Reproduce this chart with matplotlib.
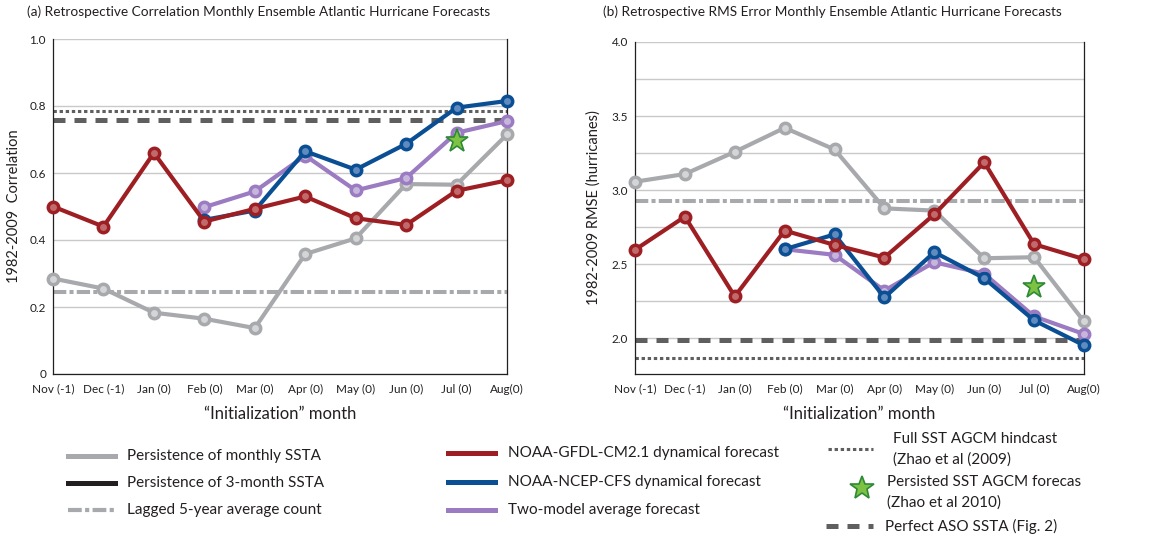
import numpy as np
import matplotlib
matplotlib.use("Agg")
import matplotlib.pyplot as plt
from matplotlib.lines import Line2D

plt.rcParams['font.family'] = ['Lato', 'DejaVu Sans']

# ---- data ----
months = ["Nov (-1)", "Dec (-1)", "Jan (0)", "Feb (0)", "Mar (0)",
          "Apr (0)", "May (0)", "Jun (0)", "Jul (0)", "Aug(0)"]

# (a) correlation
corr_persist = [0.285, 0.255, 0.183, 0.165, 0.137, 0.358, 0.405, 0.567, 0.565, 0.715]
corr_gfdl = [0.50, 0.44, 0.66, 0.455, 0.493, 0.53, 0.465, 0.445, 0.547, 0.578]
corr_ncep = [np.nan, np.nan, np.nan, 0.46, 0.488, 0.665, 0.61, 0.687, 0.795, 0.815]
corr_twomodel = [np.nan, np.nan, np.nan, 0.498, 0.545, 0.652, 0.548, 0.585, 0.72, 0.755]
corr_star = 0.695
corr_fullsst = 0.785
corr_perfect = 0.757
corr_lagged = 0.244

# (b) rmse
rmse_persist = [3.056, 3.108, 3.258, 3.42, 3.274, 2.876, 2.861, 2.539, 2.546, 2.112]
rmse_gfdl = [2.596, 2.82, 2.281, 2.726, 2.629, 2.544, 2.836, 3.187, 2.634, 2.533]
rmse_ncep = [np.nan, np.nan, np.nan, 2.60, 2.70, 2.274, 2.58, 2.404, 2.119, 1.951]
rmse_twomodel = [np.nan, np.nan, np.nan, 2.60, 2.562, 2.321, 2.512, 2.434, 2.146, 2.027]
rmse_star = 2.348
rmse_fullsst = 1.865
rmse_perfect = 1.989
rmse_lagged = 2.928

star_month = 8

GRAY = '#A7A9AC'
RED = '#9E1F23'
BLUE = '#0A4F94'
PURPLE = '#9B7BC1'
BLACK = '#231F20'
DARK = '#5F5F5F'
GRID = '#C9C9C9'

W, H = 1158, 539
fig = plt.figure(figsize=(W / 100, H / 100), dpi=100)


def px_box(x0, y0, x1, y1):
    # pixel box (top-left origin) -> figure fraction rect
    return [x0 / W, 1 - y1 / H, (x1 - x0) / W, (y1 - y0) / H]


ax1 = fig.add_axes(px_box(53, 39, 507, 374))
ax2 = fig.add_axes(px_box(635, 42, 1084, 374))

x = np.arange(len(months))


def draw_series(ax, y, color, light, z):
    ax.plot(x, y, color=color, lw=3, marker='o', ms=7.5, mfc=light, mec=color,
            mew=2.5, clip_on=False, zorder=z)


def ref_lines(ax, full, perfect, lagged):
    ax.axhline(full, color=DARK, lw=2.2, ls=(0, (1.1, 0.9)), zorder=2)
    ax.axhline(perfect, color=DARK, lw=3.6, ls=(0, (2.4, 1.8)), zorder=2)
    ax.axhline(lagged, color=GRAY, lw=2.9, ls=(0, (3.3, 0.8, 1.0, 0.8)), zorder=2)


def style(ax):
    ax.set_xlim(0, 9)
    ax.set_xticks(x)
    ax.set_xticklabels(months, fontsize=8.5, color=BLACK)
    ax.tick_params(axis='both', length=0, labelsize=8.5, labelcolor=BLACK)
    ax.tick_params(axis='x', pad=7)
    ax.tick_params(axis='y', pad=5)
    ax.grid(axis='y', which='both', color=GRID, lw=1, zorder=0)
    ax.spines['top'].set_visible(False)
    for s in ['left', 'right', 'bottom']:
        ax.spines[s].set_color(BLACK)
        ax.spines[s].set_linewidth(0.9)
    ax.set_xlabel('\u201cInitialization\u201d month', fontsize=12, color=BLACK, labelpad=8)


# panel (a)
ref_lines(ax1, corr_fullsst, corr_perfect, corr_lagged)
draw_series(ax1, corr_persist, GRAY, '#D4D5D7', 3)
draw_series(ax1, corr_gfdl, RED, '#C06A6C', 5)
draw_series(ax1, corr_twomodel, PURPLE, '#C7B6DC', 4)
draw_series(ax1, corr_ncep, BLUE, '#5F8BBE', 4)
ax1.plot(x[star_month], corr_star, marker='*', ms=17, mfc='#7DC242', mec='#2D8A36',
         mew=1.2, ls='none', zorder=6)
ax1.set_ylim(0, 1.0)
ax1.set_yticks([0, 0.2, 0.4, 0.6, 0.8, 1.0])
ax1.set_yticklabels(['0', '0.2', '0.4', '0.6', '0.8', '1.0'])
style(ax1)
ax1.set_ylabel('1982-2009  Correlation', fontsize=10.5, color=BLACK, labelpad=6)

# panel (b)
ref_lines(ax2, rmse_fullsst, rmse_perfect, rmse_lagged)
draw_series(ax2, rmse_persist, GRAY, '#D4D5D7', 3)
draw_series(ax2, rmse_gfdl, RED, '#C06A6C', 5)
draw_series(ax2, rmse_twomodel, PURPLE, '#C7B6DC', 4)
draw_series(ax2, rmse_ncep, BLUE, '#5F8BBE', 4)
ax2.plot(x[star_month], rmse_star, marker='*', ms=17, mfc='#7DC242', mec='#2D8A36',
         mew=1.2, ls='none', zorder=6)
ax2.set_ylim(1.757, 4.0)
ax2.set_yticks([2.0, 2.5, 3.0, 3.5, 4.0])
ax2.set_yticks([2.25, 2.75, 3.25, 3.75], minor=True)
style(ax2)
ax2.tick_params(axis='y', which='minor', length=0)
ax2.set_ylabel('1982-2009 RMSE (hurricanes)', fontsize=10.5, color=BLACK, labelpad=8)

fig.text(27 / W, 1 - 12 / H, '(a) Retrospective Correlation Monthly Ensemble Atlantic Hurricane Forecasts',
         fontsize=9.8, color=BLACK, va='center', ha='left')
fig.text(603 / W, 1 - 12 / H, '(b) Retrospective RMS Error Monthly Ensemble Atlantic Hurricane Forecasts',
         fontsize=9.8, color=BLACK, va='center', ha='left')


# ---- legend, laid out by hand ----
def handle(x0, x1, y, **kw):
    fig.add_artist(Line2D([x0 / W, x1 / W], [1 - y / H, 1 - y / H],
                          transform=fig.transFigure, **kw))


def label(xp, yp, s):
    fig.text(xp / W, 1 - yp / H, s, fontsize=11, color=BLACK, va='center', ha='left')


leg_col1 = [("Persistence of monthly SSTA", dict(color=GRAY, lw=3.6)),
            ("Persistence of 3-month SSTA", dict(color=BLACK, lw=3.6)),
            ("Lagged 5-year average count", dict(color=GRAY, lw=3.0, ls=(0, (3.3, 0.8, 1.0, 0.8))))]
for (txt, kw), yy in zip(leg_col1, [456, 483, 510]):
    handle(68, 115, yy, **kw)
    label(127, yy, txt)

leg_col2 = [("NOAA-GFDL-CM2.1 dynamical forecast", RED),
            ("NOAA-NCEP-CFS dynamical forecast", BLUE),
            ("Two-model average forecast", PURPLE)]
for (txt, c), yy in zip(leg_col2, [453, 482, 510]):
    handle(448, 495, yy, color=c, lw=3.6)
    label(508, yy, txt)

handle(828, 873, 449, color=DARK, lw=2.2, ls=(0, (1.1, 0.9)))
label(893, 439, "Full SST AGCM hindcast")
label(893, 460, "(Zhao et al (2009)")
fig.add_artist(Line2D([862 / W], [1 - 488 / H], transform=fig.transFigure, marker='*',
                      ms=18, mfc='#7DC242', mec='#2D8A36', mew=1.2, ls='none'))
label(887, 482, "Persisted SST AGCM forecas")
label(887, 503, "(Zhao et al 2010)")
handle(826, 873, 526, color=DARK, lw=3.6, ls=(0, (2.4, 1.8)))
label(885, 526, "Perfect ASO SSTA (Fig. 2)")

fig.savefig('out.png', dpi=100)
